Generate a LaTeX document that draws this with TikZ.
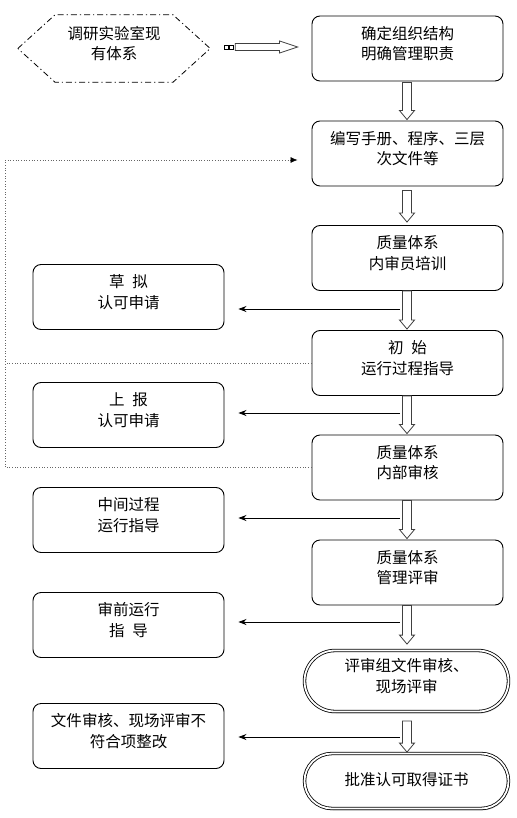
\documentclass[tikz,border=0pt]{standalone}
\usepackage{fontspec}
\setmainfont{Noto Sans CJK SC}
\usetikzlibrary{calc,arrows.meta,shapes.misc,shadows}
\newcommand{\vhol}[2]{\draw[hol] let \p1=(#1), \p2=(#2) in
 ({\x1-4.5bp},\y1) -- ({\x1-4.5bp},{\y2+9bp}) -- ({\x1-7.5bp},{\y2+9bp}) -- (\x1,\y2) -- ({\x1+7.5bp},{\y2+9bp}) -- ({\x1+4.5bp},{\y2+9bp}) -- ({\x1+4.5bp},\y1) -- cycle;}
\begin{document}
\begin{tikzpicture}[x=1bp,y=-1bp,
  lbl/.style={align=center, yshift=5bp, inner sep=0, font=\fontsize{15.5bp}{20.5bp}\selectfont},
  box/.style={draw, rounded corners=8bp, minimum width=191bp, minimum height=65bp, line width=0.9bp, inner sep=0},
  stad/.style={rounded rectangle, draw, double, double distance=1.8bp, line width=0.8bp, minimum width=204bp, inner sep=0, fill=white,
     drop shadow={opacity=0.35, shadow xshift=1bp, shadow yshift=-2bp}},
  hol/.style={draw=black!75, line width=0.8bp, fill=white},
  harr/.style={line width=0.7bp, -{Stealth[length=8bp,width=6bp]}},
  dotline/.style={draw=black!60, dotted, line width=0.7bp}]
\useasboundingbox (0,0) rectangle (517,818);
% hexagon
\node[inner sep=0, minimum width=192bp, minimum height=67bp, label={[lbl]center:{调研实验室现\\有体系}}] (hex) at (114,48.5) {};
\draw[line width=0.8bp, dash pattern=on 6bp off 3bp on 1.2bp off 3bp]
  (hex.west) -- ($(hex.north)+(-59,0)$) -- ($(hex.north)+(59,0)$) -- (hex.east)
  -- ($(hex.south)+(59,0)$) -- ($(hex.south)+(-59,0)$) -- cycle;
% right boxes
\node[box, label={[lbl]center:{确定组织结构\\明确管理职责}}] (b1) at (407.5,48.5) {};
\node[box, label={[lbl]center:{编写手册、程序、三层\\次文件等}}] (b2) at (407.5,153.5) {};
\node[box, label={[lbl]center:{质量体系\\内审员培训}}] (b3) at (407.5,258) {};
\node[box, label={[lbl]center:{初\hspace{0.5em}始\\运行过程指导}}] (b4) at (407.5,363) {};
\node[box, label={[lbl]center:{质量体系\\内部审核}}] (b5) at (407.5,467.5) {};
\node[box, label={[lbl]center:{质量体系\\管理评审}}] (b6) at (407.5,572.5) {};
\node[stad, minimum height=61bp, label={[lbl]center:{评审组文件审核、\\现场评审}}] (b7) at (406.5,681) {};
\node[stad, minimum height=55bp, label={[lbl,yshift=-4bp]center:{批准认可取得证书}}] (b8) at (406.5,781) {};
% left boxes
\node[box, label={[lbl]center:{草\hspace{0.5em}拟\\认可申请}}] (l1) at (128.5,297) {};
\node[box, label={[lbl]center:{上\hspace{0.5em}报\\认可申请}}] (l2) at (128.5,415) {};
\node[box, label={[lbl]center:{中间过程\\运行指导}}] (l3) at (128.5,520) {};
\node[box, label={[lbl]center:{审前运行\\指\hspace{0.5em}导}}] (l4) at (128.5,625) {};
\node[box, label={[lbl]center:{文件审核、现场评审不\\符合项整改}}] (l5) at (128.5,736) {};
% top striped arrow
\coordinate (ts) at ($(hex.east)+(14,-1.5)$);
\draw[line width=0.7bp] ($(ts)+(0,-2)$) rectangle ($(ts)+(4,2)$);
\draw[line width=0.7bp] ($(ts)+(5,-2)$) rectangle ($(ts)+(9,2)$);
\draw[hol] let \p1=($(ts)+(11,0)$), \p2=($(ts -| b1.west)+(-14,0)$) in
 (\x1,{\y1+3.5bp}) -- ({\x2-18bp},{\y1+3.5bp}) -- ({\x2-18bp},{\y1+6bp}) -- (\x2,\y1)
 -- ({\x2-18bp},{\y1-6bp}) -- ({\x2-18bp},{\y1-3.5bp}) -- (\x1,{\y1-3.5bp}) -- cycle;
% vertical hollow arrows
\vhol{$(b1.south)+(-0.5,1)$}{$(b2.north)+(-0.5,-1)$}
\vhol{$(b2.south)+(-0.5,4)$}{$(b3.north)+(-0.5,-3)$}
\vhol{$(b3.south)+(-0.5,0)$}{$(b4.north)+(-0.5,-1)$}
\vhol{$(b4.south)+(-0.5,0)$}{$(b5.north)+(-0.5,-1)$}
\vhol{$(b5.south)+(-0.5,0)$}{$(b6.north)+(-0.5,-1)$}
\vhol{$(b6.south)+(-0.5,0)$}{$(b7.north)+(0.5,-6)$}
\vhol{$(b7.south)+(0.5,9)$}{$(b8.north)+(0.5,-1)$}
% horizontal arrows
\coordinate (h1) at (400,309);
\coordinate (h2) at (400,413);
\coordinate (h3) at (400,518);
\coordinate (h4) at (400,622);
\coordinate (h5) at (400,737);
\draw[harr] (h1) -- ($(h1 -| l1.east)+(14,0)$);
\draw[harr] (h2) -- ($(h2 -| l2.east)+(14,0)$);
\draw[harr] (h3) -- ($(h3 -| l3.east)+(14,0)$);
\draw[harr] (h4) -- ($(h4 -| l4.east)+(14,0)$);
\draw[harr] (h5) -- ($(h5 -| l5.east)+(14,0)$);
% dotted feedback lines
\coordinate (cL) at (5,160);
\draw[dotline, -{Latex[length=7bp,width=6bp,color=black]}] (b5.west) -| (cL) -- ($(cL -| b2.west)+(-14,0)$);
\draw[dotline] (b4.west) -- (b4.west -| cL);
\end{tikzpicture}
\end{document}
